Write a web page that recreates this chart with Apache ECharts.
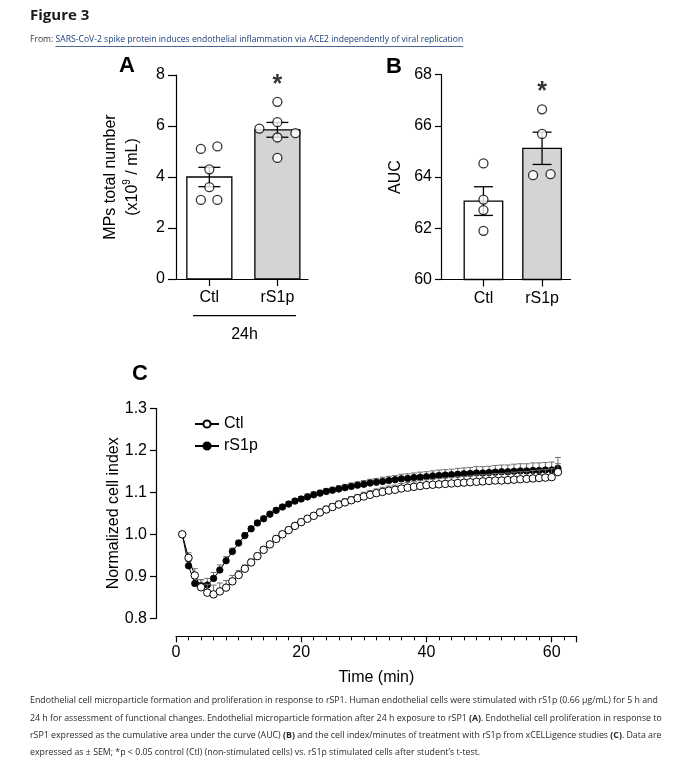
<!DOCTYPE html>
<html><head><meta charset="utf-8">
<script src="https://cdn.jsdelivr.net/npm/echarts@6/dist/echarts.min.js"></script>
<style>html,body{margin:0;padding:0;background:#fff}#c{width:676px;height:762px}</style>
</head><body><div id="c"></div>
<script>
// ---------------- data ----------------
const categories = ['Ctl', 'rS1p'];
// Panel A: MPs total number (x10^9 / mL), 24h
const mpsCtl = [5.1, 5.2, 4.3, 3.6, 3.1, 3.1];
const mpsRS1p = [6.95, 6.15, 5.9, 5.72, 5.55, 4.75];
const mpsMean = [4.0, 5.85];
const mpsSem = [0.38, 0.29];
// Panel B: AUC
const aucCtl = [64.53, 63.12, 62.71, 61.9];
const aucRS1p = [66.64, 65.68, 64.07, 64.11];
const aucMean = [63.06, 65.12];
const aucSem = [0.56, 0.63];
// Panel C: normalized cell index vs time (min)
const timeMin = [1,2,3,4,5,6,7,8,9,10,11,12,13,14,15,16,17,18,19,20,21,22,23,24,25,26,27,28,29,30,
  31,32,33,34,35,36,37,38,39,40,41,42,43,44,45,46,47,48,49,50,51,52,53,54,55,56,57,58,59,60,61];
const ciCtl = [1.000,0.944,0.902,0.874,0.861,0.857,0.864,0.873,0.888,0.903,
  0.918,0.933,0.948,0.963,0.976,0.989,1.000,1.010,1.020,1.029,
  1.037,1.044,1.052,1.059,1.065,1.071,1.076,1.081,1.086,1.090,
  1.094,1.098,1.101,1.104,1.106,1.109,1.111,1.113,1.115,1.117,
  1.118,1.119,1.120,1.121,1.122,1.123,1.124,1.125,1.126,1.127,
  1.128,1.128,1.129,1.130,1.131,1.132,1.133,1.134,1.135,1.136,
  1.148];
const ciCtlSem = [0,0.012,0.016,0.018,0.020,0.022,0.020,0.017,0.014,0.011,
  0.009,0.008,0.007,0.007,0.007,0.007,0.007,0.007,0.007,0.007,
  0.007,0.007,0.008,0.008,0.008,0.008,0.009,0.009,0.009,0.010,
  0.010,0.010,0.011,0.011,0.011,0.012,0.012,0.012,0.013,0.013,
  0.013,0.014,0.014,0.014,0.015,0.015,0.015,0.016,0.016,0.016,
  0.017,0.017,0.017,0.018,0.018,0.018,0.019,0.019,0.019,0.020,
  0.020];
const ciRS1p = [1.000,0.925,0.883,0.878,0.879,0.895,0.915,0.937,0.959,0.979,
  0.997,1.013,1.027,1.037,1.048,1.057,1.065,1.072,1.079,1.084,
  1.089,1.094,1.098,1.102,1.105,1.108,1.111,1.114,1.117,1.119,
  1.122,1.124,1.126,1.128,1.130,1.132,1.133,1.135,1.136,1.137,
  1.139,1.140,1.141,1.142,1.143,1.144,1.145,1.146,1.146,1.147,
  1.148,1.149,1.149,1.150,1.151,1.151,1.152,1.152,1.153,1.153,
  1.157];
const ciRS1pSem = [0,0.010,0.012,0.014,0.016,0.014,0.012,0.010,0.008,0.007,
  0.006,0.006,0.006,0.006,0.006,0.006,0.006,0.006,0.006,0.006,
  0.007,0.007,0.007,0.007,0.007,0.008,0.008,0.008,0.008,0.009,
  0.009,0.009,0.010,0.010,0.010,0.011,0.011,0.011,0.012,0.012,
  0.012,0.013,0.013,0.013,0.014,0.014,0.014,0.015,0.015,0.015,
  0.016,0.016,0.016,0.017,0.017,0.017,0.018,0.018,0.018,0.019,
  0.026];

// ---------------- text ----------------
const figTitle = 'Figure 3';
const fromLabel = 'From: ';
const linkText = 'SARS-CoV-2 spike protein induces endothelial inflammation via ACE2 independently of viral replication';
const captionLines = [
  'Endothelial cell microparticle formation and proliferation in response to rSP1. Human endothelial cells were stimulated with rS1p (0.66 \u03bcg/mL) for 5 h and',
  '24 h for assessment of functional changes. Endothelial microparticle formation after 24 h exposure to rSP1 {b|(A)}. Endothelial cell proliferation in response to',
  'rSP1 expressed as the cumulative area under the curve (AUC) {b|(B)} and the cell index/minutes of treatment with rS1p from xCELLigence studies {b|(C)}. Data are',
  'expressed as \u00b1 SEM; *p < 0.05 control (Ctl) (non-stimulated cells) vs. rS1p stimulated cells after student\u2019s t-test.'
];

// ---------------- rendering ----------------
const FF = '"Liberation Sans", Arial, sans-serif';
const CF = '"Open Sans", "Noto Sans", sans-serif';
const chart = echarts.init(document.getElementById('c'), null, {renderer: 'canvas'});

function measure(text, font) {
  const ctx = document.createElement('canvas').getContext('2d');
  ctx.font = font;
  return ctx.measureText(text).width;
}

function barRender(barW, capHalf, fills) {
  return function (params, api) {
    const x = api.value(0), m = api.value(1), s = api.value(2), base = api.value(3);
    const pt = api.coord([x, m]), pb = api.coord([x, base]);
    const ph = api.coord([x, m + s]), pl = api.coord([x, m - s]);
    const st = {stroke: '#000', lineWidth: 1.3};
    return {type: 'group', children: [
      {type: 'rect', shape: {x: pt[0] - barW / 2, y: pt[1], width: barW, height: pb[1] - pt[1]},
        style: {fill: fills[params.dataIndex], stroke: '#000', lineWidth: 1.3}},
      {type: 'line', shape: {x1: ph[0], y1: ph[1], x2: pl[0], y2: pl[1]}, style: st},
      {type: 'line', shape: {x1: ph[0] - capHalf, y1: ph[1], x2: ph[0] + capHalf, y2: ph[1]}, style: st},
      {type: 'line', shape: {x1: pl[0] - capHalf, y1: pl[1], x2: pl[0] + capHalf, y2: pl[1]}, style: st}
    ]};
  };
}
function errUp(color, capHalf) {
  return function (params, api) {
    const x = api.value(0), m = api.value(1), s = api.value(2);
    if (!s) return null;
    const p0 = api.coord([x, m]), p1 = api.coord([x, m + s]);
    const st = {stroke: color, lineWidth: 1};
    return {type: 'group', children: [
      {type: 'line', shape: {x1: p0[0], y1: p0[1], x2: p1[0], y2: p1[1]}, style: st},
      {type: 'line', shape: {x1: p1[0] - capHalf, y1: p1[1], x2: p1[0] + capHalf, y2: p1[1]}, style: st}
    ]};
  };
}
function pts(xIdx, vals, jit) {
  return vals.map((v, i) => ({value: [xIdx, v], symbolOffset: [jit[i], 0]}));
}
const openDot = {color: '#fff', borderColor: '#000', borderWidth: 1.3};
const axisLineBlack = {show: true, onZero: false, lineStyle: {color: '#000', width: 1.2}};
const tickStyle = {lineStyle: {color: '#000', width: 1.2}};
const lab16 = {color: '#000', fontSize: 16, fontFamily: FF};
const catAxis = (min, max, gi) => ({
  type: 'value', gridIndex: gi, min: min, max: max,
  axisLine: axisLineBlack, splitLine: {show: false},
  axisTick: {show: true, length: 7, lineStyle: tickStyle.lineStyle, customValues: [0, 1]},
  axisLabel: Object.assign({}, lab16, {margin: 11, customValues: [0, 1], formatter: v => categories[Math.round(v)] || ''})
});
const sigLabel = {show: true, position: 'top', distance: 0, formatter: '*', fontSize: 25, fontWeight: 'bold', color: '#000', fontFamily: FF};

// header measurement
const fromFont = '8.6px ' + CF;
const fromW = measure(fromLabel, fromFont);
const linkW = measure(linkText, fromFont);

const option = {
  backgroundColor: '#fff',
  animation: false,
  grid: [
    {left: 176, top: 75, width: 132, height: 204},
    {left: 441, top: 74.5, width: 129.5, height: 205},
    {left: 176, top: 408.3, width: 400.7, height: 210}
  ],
  xAxis: [
    catAxis(-0.49, 1.45, 0),
    catAxis(-0.724, 1.485, 1),
    {type: 'value', gridIndex: 2, min: 0, max: 64, interval: 20, offset: 18,
      axisLine: axisLineBlack, splitLine: {show: false},
      axisTick: {show: true, length: 6, lineStyle: tickStyle.lineStyle},
      minorTick: {show: true, splitNumber: 10, length: 4, lineStyle: {color: '#000', width: 1}},
      axisLabel: Object.assign({}, lab16, {margin: 8, showMaxLabel: false}),
      name: 'Time (min)', nameLocation: 'middle', nameGap: 33,
      nameTextStyle: {fontSize: 16, color: '#000', fontFamily: FF}}
  ],
  yAxis: [
    {type: 'value', gridIndex: 0, min: 0, max: 8, interval: 2,
      axisLine: axisLineBlack, splitLine: {show: false},
      axisTick: {show: true, length: 8, lineStyle: tickStyle.lineStyle},
      axisLabel: Object.assign({}, lab16, {margin: 11}),
      name: '{n|MPs total number}\n{n|(x10}{s|9}{n| / mL)}', nameLocation: 'middle', nameRotate: 90, nameGap: 32,
      nameTextStyle: {color: '#000', fontFamily: FF, lineHeight: 22,
        rich: {n: {fontSize: 16, color: '#000', fontFamily: FF, lineHeight: 22},
               s: {fontSize: 10, color: '#000', fontFamily: FF, verticalAlign: 'top', lineHeight: 22, padding: [0, 0, 8, 0]}}}},
    {type: 'value', gridIndex: 1, min: 60, max: 68, interval: 2,
      axisLine: axisLineBlack, splitLine: {show: false},
      axisTick: {show: true, length: 6, lineStyle: tickStyle.lineStyle},
      axisLabel: Object.assign({}, lab16, {margin: 9}),
      name: 'AUC', nameLocation: 'middle', nameRotate: 90, nameGap: 37,
      nameTextStyle: {fontSize: 16, color: '#000', fontFamily: FF}},
    {type: 'value', gridIndex: 2, min: 0.8, max: 1.3, interval: 0.1, offset: 20,
      axisLine: axisLineBlack, splitLine: {show: false},
      axisTick: {show: true, length: 6, lineStyle: tickStyle.lineStyle},
      axisLabel: Object.assign({}, lab16, {margin: 9, formatter: v => v.toFixed(1)}),
      name: 'Normalized cell index', nameLocation: 'middle', nameRotate: 90, nameGap: 34, nameMoveOverlap: false,
      nameTextStyle: {fontSize: 16, color: '#000', fontFamily: FF}}
  ],
  legend: {
    orient: 'vertical', left: 189, top: 411, itemWidth: 24, itemHeight: 9, itemGap: 6,
    data: ['Ctl', 'rS1p'],
    textStyle: {fontSize: 16, color: '#000', fontFamily: FF}
  },
  series: [
    // Panel A
    {type: 'custom', name: 'A bars', xAxisIndex: 0, yAxisIndex: 0, z: 2,
      renderItem: barRender(45, 11, ['#fff', '#d4d4d4']), encode: {x: 0, y: 1},
      data: categories.map((c, i) => [i, mpsMean[i], mpsSem[i], 0])},
    {type: 'scatter', name: 'A Ctl', xAxisIndex: 0, yAxisIndex: 0, z: 3, symbolSize: 9, itemStyle: openDot,
      data: pts(0, mpsCtl, [-8.5, 8, 0, 0, -8.5, 8])},
    {type: 'scatter', name: 'A rS1p', xAxisIndex: 0, yAxisIndex: 0, z: 3, symbolSize: 9, itemStyle: openDot,
      data: pts(1, mpsRS1p, [0, 0, -18, 18, 0, 0])},
    {type: 'scatter', name: 'A sig', xAxisIndex: 0, yAxisIndex: 0, symbolSize: 9, itemStyle: {color: 'rgba(0,0,0,0)'},
      label: sigLabel, silent: true, data: [[1, Math.max(...mpsRS1p)]]},
    // Panel B
    {type: 'custom', name: 'B bars', xAxisIndex: 1, yAxisIndex: 1, z: 2,
      renderItem: barRender(38.5, 9.5, ['#fff', '#d4d4d4']), encode: {x: 0, y: 1},
      data: categories.map((c, i) => [i, aucMean[i], aucSem[i], 60])},
    {type: 'scatter', name: 'B Ctl', xAxisIndex: 1, yAxisIndex: 1, z: 3, symbolSize: 9, itemStyle: openDot,
      data: pts(0, aucCtl, [0, 0, 0, 0])},
    {type: 'scatter', name: 'B rS1p', xAxisIndex: 1, yAxisIndex: 1, z: 3, symbolSize: 9, itemStyle: openDot,
      data: pts(1, aucRS1p, [0, 0, -9, 8.5])},
    {type: 'scatter', name: 'B sig', xAxisIndex: 1, yAxisIndex: 1, symbolSize: 9, itemStyle: {color: 'rgba(0,0,0,0)'},
      label: sigLabel, silent: true, data: [[1, Math.max(...aucRS1p)]]},
    // Panel C
    {type: 'custom', name: 'rS1p SEM', xAxisIndex: 2, yAxisIndex: 2, z: 2,
      renderItem: errUp('#6e6e6e', 3), encode: {x: 0, y: 1},
      data: timeMin.map((t, i) => [t, ciRS1p[i], ciRS1pSem[i]])},
    {type: 'line', name: 'rS1p', xAxisIndex: 2, yAxisIndex: 2, z: 3,
      symbol: 'circle', symbolSize: 6.5, showAllSymbol: true,
      lineStyle: {color: '#000', width: 1}, itemStyle: {color: '#000', borderColor: '#000', borderWidth: 0.8},
      data: timeMin.map((t, i) => [t, ciRS1p[i]])},
    {type: 'custom', name: 'Ctl SEM', xAxisIndex: 2, yAxisIndex: 2, z: 4,
      renderItem: errUp('#6e6e6e', 3), encode: {x: 0, y: 1},
      data: timeMin.map((t, i) => [t, ciCtl[i], ciCtlSem[i]])},
    {type: 'line', name: 'Ctl', xAxisIndex: 2, yAxisIndex: 2, z: 5,
      symbol: 'circle', symbolSize: 7.5, showAllSymbol: true,
      lineStyle: {color: '#000', width: 1}, itemStyle: {color: '#fff', borderColor: '#000', borderWidth: 1},
      data: timeMin.map((t, i) => [t, ciCtl[i]])}
  ],
  graphic: [
    {type: 'text', left: 30, top: 8, style: {text: figTitle, font: 'bold 15px ' + CF, fill: '#1a1a1a'}},
    {type: 'text', left: 30, top: 35, style: {text: fromLabel, font: fromFont, fill: '#333'}},
    {type: 'text', left: 30 + fromW, top: 35, style: {text: linkText, font: fromFont, fill: '#1f3f7a'}},
    {type: 'line', shape: {x1: 30 + fromW, y1: 46.5, x2: 30 + fromW + linkW, y2: 46.5}, style: {stroke: '#1f3f7a', lineWidth: 0.8}},
    {type: 'text', left: 119, top: 55, style: {text: 'A', font: 'bold 22px ' + FF, fill: '#000'}},
    {type: 'text', left: 386, top: 56, style: {text: 'B', font: 'bold 22px ' + FF, fill: '#000'}},
    {type: 'text', left: 132, top: 363, style: {text: 'C', font: 'bold 22px ' + FF, fill: '#000'}},
    {type: 'line', shape: {x1: 193, y1: 315.7, x2: 296, y2: 315.7}, style: {stroke: '#000', lineWidth: 1.2}},
    {type: 'text', x: 244.5, y: 335, style: {text: '24h', font: '16px ' + FF, fill: '#000', textAlign: 'center', textVerticalAlign: 'middle'}},
    {type: 'text', left: 30, top: 692, style: {
      text: captionLines.join('\n'), fontSize: 8.8, fontFamily: CF, fill: '#2a2a2a', lineHeight: 17.4,
      rich: {b: {fontSize: 8.8, fontFamily: CF, fontWeight: 'bold', fill: '#2a2a2a', lineHeight: 17.4}}}}
  ]
};
chart.setOption(option);
</script>
</body></html>
